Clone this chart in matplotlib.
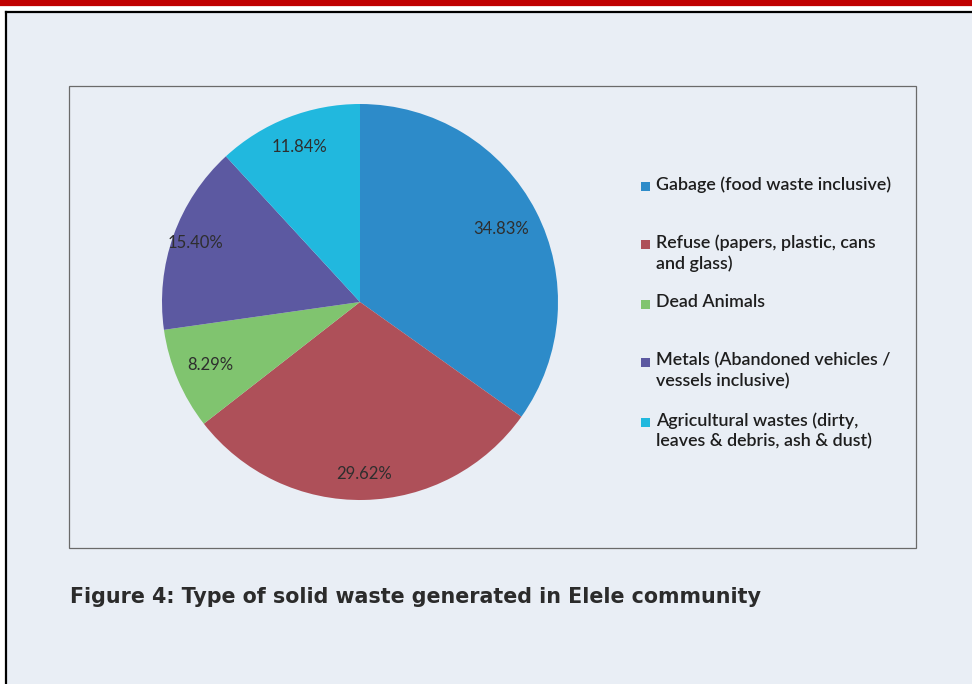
import numpy as np
import matplotlib
matplotlib.use("Agg")
import matplotlib.pyplot as plt
from matplotlib.patches import Rectangle
from matplotlib.lines import Line2D

# data
categories = ["Gabage (food waste inclusive)",
              "Refuse (papers, plastic, cans\nand glass)",
              "Dead Animals",
              "Metals (Abandoned vehicles /\nvessels inclusive)",
              "Agricultural wastes (dirty,\nleaves & debris, ash & dust)"]
shares = [34.83, 29.62, 8.29, 15.40, 11.84]
colors = ["#2d8bc9", "#ae5059", "#80c46f", "#5c59a1", "#21b8de"]

W, H = 972, 684
BG = "#e9eef5"

def px_box(x, y, w, h):
    return [x / W, 1 - (y + h) / H, w / W, h / H]

fig = plt.figure(figsize=(W / 100, H / 100), dpi=100)
fig.patch.set_facecolor("white")

# page background, red rule, black border
fig.patches.append(Rectangle((7 / W, 0), 1, 1 - 12 / H, transform=fig.transFigure,
                             facecolor=BG, edgecolor="none", zorder=-5))
fig.add_artist(Line2D([0, 1], [1 - 3 / H] * 2, color="#c00000", lw=4.5))
fig.add_artist(Line2D([6 / W, 1], [1 - 12 / H] * 2, color="black", lw=1.6))
fig.add_artist(Line2D([6 / W, 6 / W], [0, 1 - 12 / H], color="black", lw=1.6))

# inner chart frame
fig.patches.append(Rectangle((69 / W, 1 - 548 / H), (916 - 69) / W, (548 - 86) / H,
                             transform=fig.transFigure, facecolor="none",
                             edgecolor="#6a6a6a", lw=0.9, zorder=1))

# pie
ax = fig.add_axes(px_box(162, 104, 396, 396))
ax.set_zorder(3)
wedges, _ = ax.pie(shares, colors=colors, startangle=90, counterclock=False,
                   radius=1, wedgeprops=dict(linewidth=0))
ax.set_xlim(-1, 1)
ax.set_ylim(-1, 1)
ax.set_aspect("equal")
ax.axis("off")

label_r = [0.80, 0.87, 0.82, 0.88, 0.84]
for w, v, r in zip(wedges, shares, label_r):
    ang = np.deg2rad((w.theta1 + w.theta2) / 2)
    ax.text(r * np.cos(ang), r * np.sin(ang), f"{v:.2f}%", ha="center", va="center",
            fontsize=12, family="Lato", color="#2e2e2e")

# legend
leg_y = [186, 244, 304, 362, 422]
for w, lab, y in zip(wedges, categories, leg_y):
    fig.patches.append(Rectangle((641 / W, 1 - (y + 5) / H), 9 / W, 9 / H,
                                 transform=fig.transFigure,
                                 facecolor=w.get_facecolor(), edgecolor="none"))
    fig.text(656 / W, 1 - (y - 10) / H, lab, ha="left", va="top", fontsize=12.9,
             family="Lato", fontweight="semibold", color="#1e1e1e", linespacing=1.36)

# caption
fig.text(70 / W, 1 - 597 / H, "Figure 4: Type of solid waste generated in Elele community",
         ha="left", va="center", fontsize=14.9, fontweight="bold", family="DejaVu Sans",
         color="#2b2b2b")

fig.savefig("out.png", dpi=100, facecolor=fig.get_facecolor())
